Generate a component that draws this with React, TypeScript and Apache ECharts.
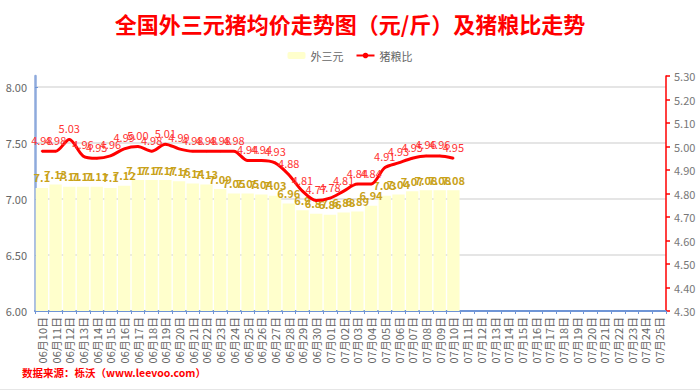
import React, { useEffect, useRef } from "react";
import * as echarts from "echarts";

const categories: string[] = [
  "06月10日", "06月11日", "06月12日", "06月13日", "06月14日", "06月15日", "06月16日", "06月17日",
  "06月18日", "06月19日", "06月20日", "06月21日", "06月22日", "06月23日", "06月24日", "06月25日",
  "06月26日", "06月27日", "06月28日", "06月29日", "06月30日", "07月01日", "07月02日", "07月03日",
  "07月04日", "07月05日", "07月06日", "07月07日", "07月08日", "07月09日", "07月10日", "07月11日",
  "07月12日", "07月13日", "07月14日", "07月15日", "07月16日", "07月17日", "07月18日", "07月19日",
  "07月20日", "07月21日", "07月22日", "07月23日", "07月24日", "07月25日",
];

const pigPrice: number[] = [
  7.1, 7.13, 7.11, 7.11, 7.11, 7.1, 7.12, 7.17, 7.17, 7.17, 7.16, 7.14, 7.13, 7.09, 7.05, 7.05,
  7.04, 7.03, 6.96, 6.9, 6.87, 6.86, 6.88, 6.89, 6.94, 7.03, 7.04, 7.07, 7.08, 7.08, 7.08,
];

const pigGrainRatio: number[] = [
  4.98, 4.98, 5.03, 4.96, 4.95, 4.96, 4.99, 5.0, 4.98, 5.01, 4.99, 4.98, 4.98, 4.98, 4.98, 4.94,
  4.94, 4.93, 4.88, 4.81, 4.77, 4.78, 4.81, 4.84, 4.84, 4.91, 4.93, 4.95, 4.96, 4.96, 4.95,
];

const titleText = "全国外三元猪均价走势图（元/斤）及猪粮比走势";
const sourceText = "数据来源：栎沃（www.leevoo.com）";
const seriesNames = ["外三元", "猪粮比"];

export default function App() {
  const ref = useRef<HTMLDivElement>(null);
  useEffect(() => {
    if (!ref.current) return;
    const chart = echarts.init(ref.current, null, { renderer: "svg" });
    const font = "'Noto Sans CJK SC', 'Noto Sans', sans-serif";
    chart.setOption({
      animation: false,
      backgroundColor: "#ffffff",
      textStyle: { fontFamily: font },
      title: {
        text: titleText,
        left: "center",
        top: 7,
        textStyle: { color: "#ff0000", fontSize: 22, fontWeight: "bold", fontFamily: font },
      },
      legend: {
        top: 45,
        left: "center",
        itemWidth: 18,
        itemHeight: 7,
        itemGap: 12,
        textStyle: { color: "#666", fontSize: 11, fontFamily: font },
        data: seriesNames,
      },
      grid: { left: 35, right: 34, top: 76, bottom: 80, containLabel: false },
      xAxis: {
        type: "category",
        data: categories,
        boundaryGap: true,
        axisLine: { lineStyle: { color: "#6f95d6", width: 2 } },
        axisTick: { show: true, length: 3, lineStyle: { color: "#6f95d6" } },
        axisLabel: { rotate: 90, interval: 0, color: "#666", fontSize: 11, margin: 6, fontFamily: font },
      },
      yAxis: [
        {
          type: "value",
          min: 6,
          max: 8.1,
          interval: 0.5,
          axisLine: { show: true, lineStyle: { color: "#8eaadc", width: 2.5 } },
          axisTick: { show: true, inside: true, length: 3, lineStyle: { color: "#6f95d6" } },
          axisLabel: {
            color: "#666",
            fontSize: 11,
            showMaxLabel: false,
            formatter: (v: number) => v.toFixed(2),
          },
          splitLine: { show: true, showMaxLine: false, lineStyle: { color: "#dcdcdc", width: 1.5 } },
        },
        {
          type: "value",
          min: 4.3,
          max: 5.3,
          interval: 0.1,
          axisLine: { show: true, lineStyle: { color: "#ff0000", width: 1.5 } },
          axisTick: { show: true, length: 4, lineStyle: { color: "#ff0000", width: 1.5 } },
          axisLabel: { color: "#777", fontSize: 11, formatter: (v: number) => v.toFixed(2) },
          splitLine: { show: false },
        },
      ],
      series: [
        {
          name: seriesNames[0],
          type: "bar",
          yAxisIndex: 0,
          data: pigPrice,
          barCategoryGap: "10%",
          itemStyle: { color: "#ffffcc" },
          label: {
            show: true,
            position: "top",
            color: "#c9a21a",
            fontSize: 11,
            fontWeight: "bold",
            fontFamily: font,
          },
        },
        {
          name: seriesNames[1],
          type: "line",
          yAxisIndex: 1,
          data: pigGrainRatio,
          smooth: 0.3,
          symbol: "circle",
          symbolSize: 2,
          itemStyle: { color: "#ff0000" },
          lineStyle: { color: "#ff0000", width: 3 },
          label: {
            show: true,
            position: "top",
            color: "#ff3333",
            fontSize: 11,
            fontFamily: font,
            formatter: (p: any) => Number(p.value).toFixed(2),
          },
        },
      ],
      graphic: [
        {
          type: "text",
          left: 22,
          top: 367,
          style: {
            text: sourceText,
            fill: "#ff0000",
            fontSize: 10.5,
            fontWeight: "bold",
            fontFamily: font,
          },
        },
        {
          type: "line",
          shape: { x1: 0, y1: 389.5, x2: 700, y2: 389.5 },
          style: { stroke: "#e6e6e6", lineWidth: 1 },
        },
      ],
    });
    return () => chart.dispose();
  }, []);
  return (
    <div
      ref={ref}
      style={{ position: "fixed", left: 0, top: 0, width: 700, height: 391, background: "#fff" }}
    />
  );
}
